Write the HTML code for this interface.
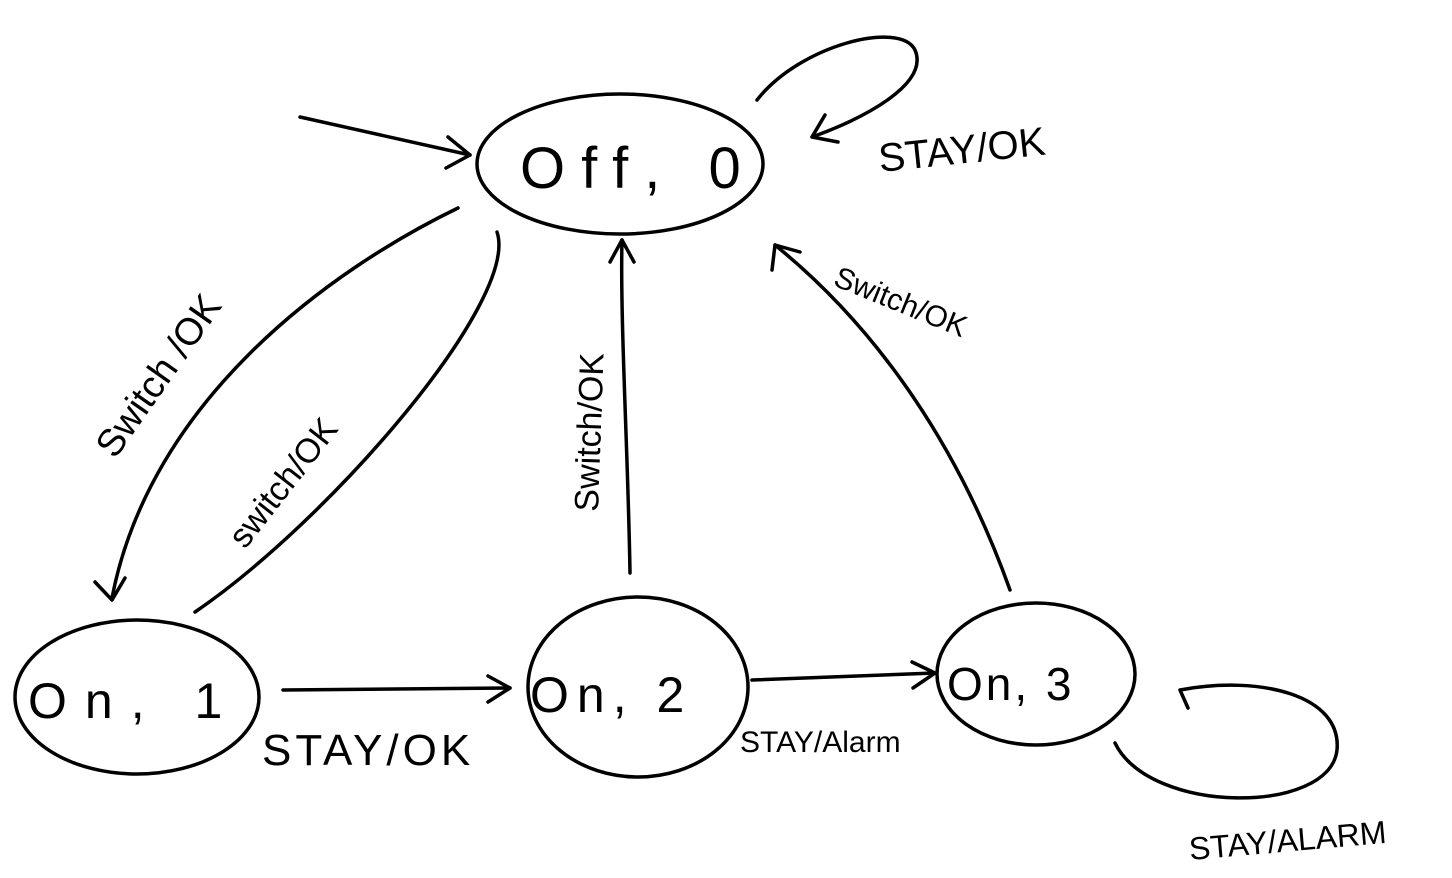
<!DOCTYPE html>
<html><head><meta charset="utf-8"><style>
html,body{margin:0;padding:0;background:#fff;}
svg{display:block;}
text{font-family:"Liberation Sans",sans-serif;fill:#000;}
</style></head><body>
<svg width="1452" height="878" viewBox="0 0 1452 878" xmlns="http://www.w3.org/2000/svg">
<g fill="none" stroke="#000" stroke-width="3.5" stroke-linecap="round" stroke-linejoin="round">
<ellipse cx="620" cy="164" rx="143" ry="70"/>
<ellipse cx="137" cy="697" rx="122" ry="77"/>
<ellipse cx="638" cy="687" rx="110" ry="90"/>
<ellipse cx="1036" cy="674" rx="99" ry="71"/>
<path d="M300,117 L470,155"/>
<path d="M448,137 L470,155 L446,168"/>
<path d="M757,100 C800,45 900,20 915,50 C930,85 860,120 812,137"/>
<path d="M825,115 L812,137 L838,142"/>
<path d="M458,208 C330,270 150,400 112,598"/>
<path d="M95,582 L112,600 L125,578"/>
<path d="M195,612 C330,520 520,300 497,232"/>
<path d="M630,573 C628,450 620,320 622,240"/>
<path d="M610,262 L622,240 L634,262"/>
<path d="M1010,590 C960,450 880,330 775,245"/>
<path d="M772,270 L775,245 L800,252"/>
<path d="M283,690 L510,688"/>
<path d="M488,676 L510,688 L488,702"/>
<path d="M752,680 L935,673"/>
<path d="M912,662 L935,673 L913,688"/>
<path d="M1115,743 C1150,815 1330,815 1337,750 C1342,695 1260,675 1180,690 L1188,708"/>
</g>
<text x="520" y="188" font-size="58" letter-spacing="16">Off, 0</text>
<text x="28" y="718" font-size="50" letter-spacing="18">On, 1</text>
<text x="530" y="712" font-size="50" letter-spacing="8">On, 2</text>
<text x="947" y="700" font-size="46" letter-spacing="3">On, 3</text>
<text x="880" y="172" font-size="40" transform="rotate(-6 880 172)">STAY/OK</text>
<text x="832" y="285" font-size="30" transform="rotate(22 832 285)">Switch/OK</text>
<text x="115" y="460" font-size="38" transform="rotate(-55 115 460)">Switch /OK</text>
<text x="245" y="550" font-size="34" transform="rotate(-52 245 550)">switch/OK</text>
<text x="598" y="512" font-size="34" transform="rotate(-88 598 512)">Switch/OK</text>
<text x="262" y="765" font-size="44" letter-spacing="4">STAY/OK</text>
<text x="740" y="752" font-size="30">STAY/Alarm</text>
<text x="1190" y="860" font-size="32" transform="rotate(-5 1190 860)">STAY/ALARM</text>
</svg>
</body></html>
